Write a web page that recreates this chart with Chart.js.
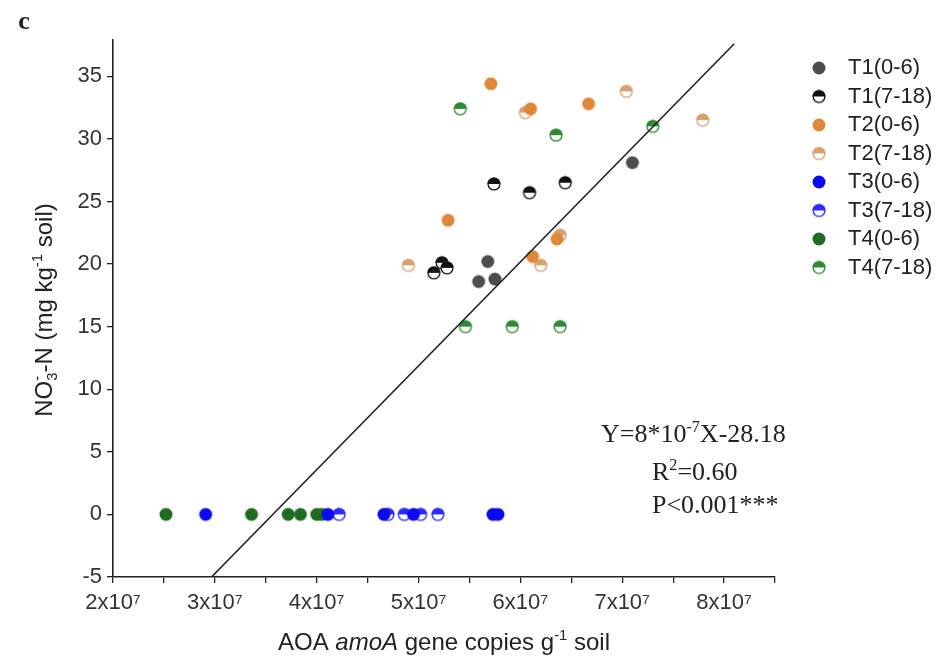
<!DOCTYPE html>
<html><head><meta charset="utf-8">
<script src="https://cdn.jsdelivr.net/npm/chart.js@4/dist/chart.umd.min.js"></script>
<style>html,body{margin:0;padding:0;background:#fff}#wrap{width:940px;height:664px;position:relative}</style>
</head><body><div id="wrap"><canvas id="c"></canvas></div>
<script>
// ---- data (x: AOA amoA gene copies g-1 soil, y: NO3--N mg kg-1 soil) ----
const seriesNames = ['T1(0-6)','T1(7-18)','T2(0-6)','T2(7-18)','T3(0-6)','T3(7-18)','T4(0-6)','T4(7-18)'];
const t1a_x = [7.10e7, 5.68e7, 5.59e7, 5.75e7];
const t1a_y = [28.1, 20.2, 18.6, 18.8];
const t1b_x = [5.74e7, 6.09e7, 6.44e7, 5.23e7, 5.15e7, 5.28e7];
const t1b_y = [26.4, 25.7, 26.5, 20.1, 19.3, 19.7];
const t2a_x = [5.71e7, 6.10e7, 6.67e7, 5.29e7, 6.12e7, 6.36e7];
const t2a_y = [34.4, 32.4, 32.8, 23.5, 20.6, 22.0];
const t2b_x = [6.05e7, 7.04e7, 7.79e7, 4.90e7, 6.20e7, 6.39e7];
const t2b_y = [32.1, 33.8, 31.5, 19.9, 19.9, 22.3];
const t3a_x = [2.91e7, 4.11e7, 4.66e7, 4.95e7, 5.73e7, 5.78e7];
const t3a_y = [0, 0, 0, 0, 0, 0];
const t3b_x = [4.22e7, 4.70e7, 4.86e7, 5.02e7, 5.19e7];
const t3b_y = [0, 0, 0, 0, 0];
const t4a_x = [2.52e7, 3.36e7, 3.72e7, 3.84e7, 4.00e7, 4.05e7];
const t4a_y = [0, 0, 0, 0, 0, 0];
const t4b_x = [5.41e7, 6.35e7, 7.30e7, 5.46e7, 5.92e7, 6.39e7];
const t4b_y = [32.4, 30.3, 31.0, 15.0, 15.0, 15.0];
// regression line end points (Y = 8*10^-7 X - 28.18)
const fit_x = [2.967e7, 8.10e7];
const fit_y = [-5, 37.6];
const xTickValues = [2e7, 2.5e7, 3e7, 3.5e7, 4e7, 4.5e7, 5e7, 5.5e7, 6e7, 6.5e7, 7e7, 7.5e7, 8e7, 8.5e7];
const yTickValues = [-5, 0, 5, 10, 15, 20, 25, 30, 35];

const colors = ['#4d4d4d','#111111','#e0873a','#d9a070','#0a0af0','#2a2aff','#1f6b22','#2f8a35'];
const halfs = [false,true,false,true,false,true,false,true];
const xs = [t1a_x,t1b_x,t2a_x,t2b_x,t3a_x,t3b_x,t4a_x,t4b_x];
const ys = [t1a_y,t1b_y,t2a_y,t2b_y,t3a_y,t3b_y,t4a_y,t4b_y];

function makeMarker(color, half, r) {
  const s = Math.ceil(r*2+3);
  const cv = document.createElement('canvas');
  cv.width = s; cv.height = s;
  const g = cv.getContext('2d');
  const c = s/2;
  if (!half) {
    g.beginPath(); g.arc(c,c,r,0,Math.PI*2); g.fillStyle=color; g.fill();
  } else {
    g.beginPath(); g.arc(c,c,r,0,Math.PI*2); g.fillStyle='#fff'; g.fill();
    g.beginPath(); g.arc(c,c,r,Math.PI,0); g.closePath(); g.fillStyle=color; g.fill();
    g.beginPath(); g.arc(c,c,r-0.6,0,Math.PI*2); g.strokeStyle=color; g.lineWidth=1.3; g.stroke();
  }
  return cv;
}
const markers = colors.map((c,i)=>makeMarker(c, halfs[i], 6.5));

const datasets = seriesNames.map((name,i)=>({
  type:'scatter', label:name, order:1,
  data: xs[i].map((x,j)=>({x:x, y:ys[i][j]})),
  pointStyle: markers[i], pointRadius:6.5, pointHoverRadius:6.5
}));
datasets.push({
  type:'line', label:'fit', order:0,
  data: fit_x.map((x,j)=>({x:x, y:fit_y[j]})),
  borderColor:'#222', borderWidth:1.6, pointRadius:0, showLine:true, fill:false, tension:0
});

function drawRich(ctx, segs, x, y, size, family, align, color) {
  const parts = segs.map(s => {
    const fs = (s.sup||s.sub) ? size*0.62 : size;
    const font = (s.italic?'italic ':'') + (s.bold?'bold ':'') + fs + 'px ' + family;
    ctx.font = font;
    let w = ctx.measureText(s.t).width;
    if (s.stack) w = Math.max(w, ctx.measureText(s.stack).width);
    return {s, font, w};
  });
  const total = parts.reduce((a,p)=>a+p.w,0);
  let cx = align==='center' ? x-total/2 : (align==='right' ? x-total : x);
  ctx.textBaseline='alphabetic'; ctx.textAlign='left'; ctx.fillStyle=color||'#222';
  for (const p of parts) {
    ctx.font = p.font;
    let dy = 0;
    if (p.s.sup) dy = -size*0.40;
    if (p.s.sub) dy = size*0.20;
    ctx.fillText(p.s.t, cx, y+dy);
    if (p.s.stack) ctx.fillText(p.s.stack, cx, y-size*0.40);
    cx += p.w;
  }
}

const deco = {
  id:'deco',
  afterDraw(chart) {
    const ctx = chart.ctx;
    ctx.save();
    // panel letter
    ctx.fillStyle='#222'; ctx.font='bold 26px "Liberation Serif"'; ctx.textAlign='center'; ctx.textBaseline='middle';
    ctx.fillText('c', 24, 22);
    // x title
    drawRich(ctx, [{t:'AOA '},{t:'amoA',italic:true},{t:' gene copies g'},{t:'-1',sup:true},{t:' soil'}],
      444, 650, 24, '"Liberation Sans", Arial, sans-serif', 'center', '#222');
    // y title
    ctx.save();
    ctx.translate(52, 310); ctx.rotate(-Math.PI/2);
    drawRich(ctx, [{t:'NO'},{t:'3',sub:true,stack:'-'},{t:'-N (mg kg'},{t:'-1',sup:true},{t:' soil)'}],
      0, 0, 24, '"Liberation Sans", Arial, sans-serif', 'center', '#222');
    ctx.restore();
    // equation
    const ser = '"Liberation Serif", "Times New Roman", serif';
    drawRich(ctx, [{t:'Y=8*10'},{t:'-7',sup:true},{t:'X-28.18'}], 601, 442, 26, ser, 'left', '#222');
    drawRich(ctx, [{t:'R'},{t:'2',sup:true},{t:'=0.60'}], 652, 480, 26, ser, 'left', '#222');
    drawRich(ctx, [{t:'P<0.001***'}], 652, 513, 26, ser, 'left', '#222');
    // legend
    ctx.font = '22px "Liberation Sans", Arial, sans-serif';
    ctx.textAlign='left'; ctx.textBaseline='middle'; ctx.fillStyle='#222';
    seriesNames.forEach((n,i)=>{
      const yy = 68 + i*28.5;
      const m = markers[i];
      ctx.drawImage(m, 819 - m.width/2, yy - m.height/2);
      ctx.fillText(n, 848, yy);
    });
    ctx.restore();
  }
};

new Chart(document.getElementById('c'), {
  type:'scatter',
  data:{datasets},
  options:{
    responsive:true, maintainAspectRatio:false, animation:false,
    layout:{padding:{top:40, right:165, left:0, bottom:0}},
    plugins:{legend:{display:false}, tooltip:{enabled:false}},
    events:[],
    scales:{
      x:{
        type:'linear', min:2e7, max:8.5e7,
        afterFit(s){ s.height = 87; },
        afterBuildTicks(s){ s.ticks = xTickValues.map(v=>({value:v})); },
        grid:{drawOnChartArea:false, drawTicks:true, tickLength:6, color:'#222', lineWidth:1.3},
        border:{display:true, color:'#222', width:1.6},
        ticks:{autoSkip:false, maxRotation:0, padding:7, color:'#333',
          font:{family:'"Liberation Sans", Arial, sans-serif', size:22},
          callback(v){ const n = v/1e7; return Math.abs(n-Math.round(n))<1e-9 ? Math.round(n)+'x10\u2077' : ''; }}
      },
      y:{
        type:'linear', min:-5, max:37.9,
        afterFit(s){ s.width = 113; },
        afterBuildTicks(s){ s.ticks = yTickValues.map(v=>({value:v})); },
        grid:{drawOnChartArea:false, drawTicks:true, tickLength:6, color:'#222', lineWidth:1.3},
        border:{display:true, color:'#222', width:1.6},
        ticks:{padding:5, color:'#333', font:{family:'"Liberation Sans", Arial, sans-serif', size:22},
          callback(v){ return String(v); }}
      }
    }
  },
  plugins:[deco]
});
</script></body></html>
